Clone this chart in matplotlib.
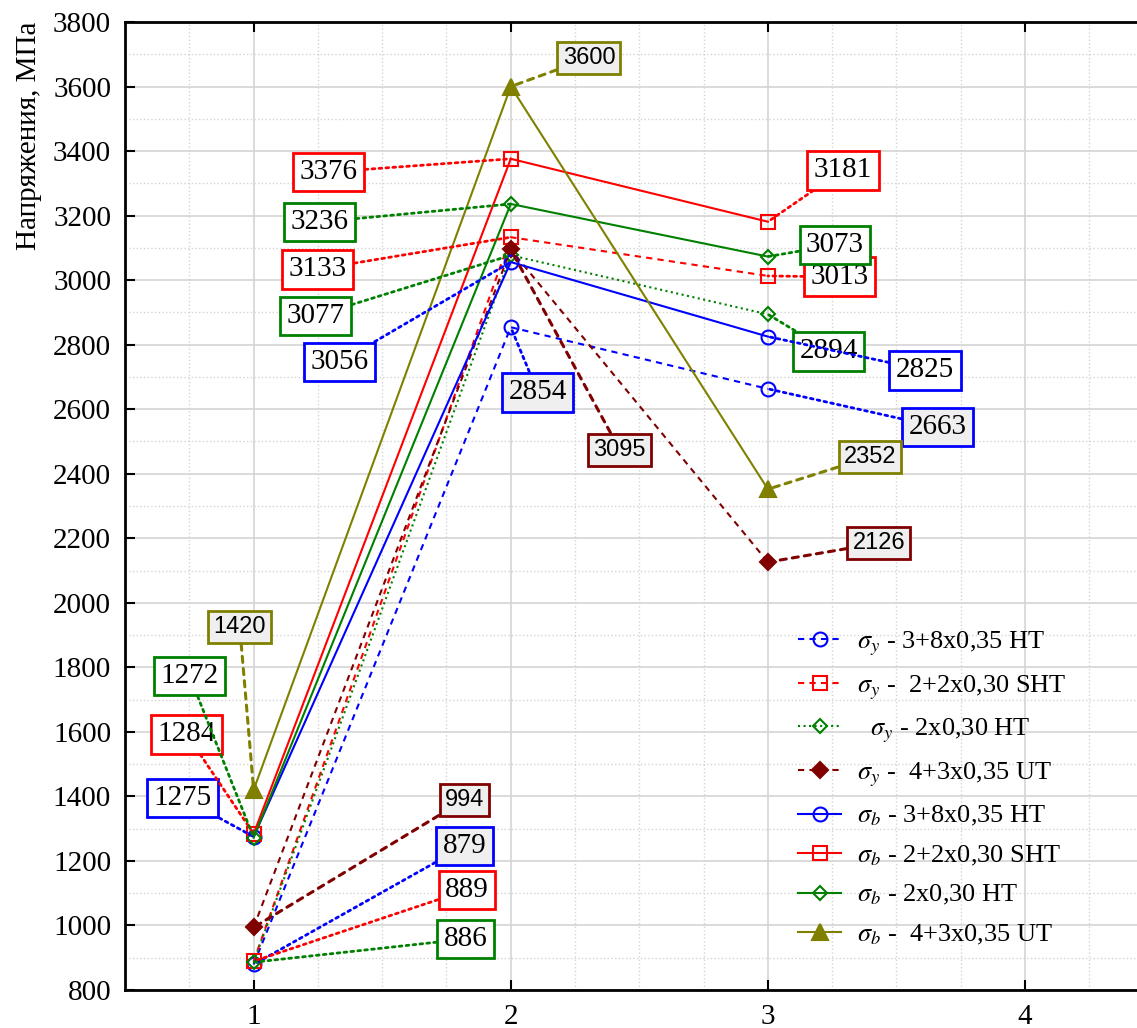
import matplotlib
matplotlib.use("Agg")
import matplotlib.pyplot as plt
from matplotlib.ticker import MultipleLocator

plt.rcParams.update({
    "font.family": ["Liberation Serif", "DejaVu Serif"],
    "mathtext.fontset": "stix",
    "font.size": 19,
})

# stages on the x axis
stages = [1, 2, 3]

names = [
    r"$\sigma_y$ - 3+8x0,35 HT",
    r"$\sigma_y$ -  2+2x0,30 SHT",
    r"  $\sigma_y$ - 2x0,30 HT",
    r"$\sigma_y$ -  4+3x0,35 UT",
    r"$\sigma_b$ - 3+8x0,35 HT",
    r"$\sigma_b$ - 2+2x0,30 SHT",
    r"$\sigma_b$ - 2x0,30 HT",
    r"$\sigma_b$ -  4+3x0,35 UT",
]

sy_38_ht = [879, 2854, 2663]
sy_22_sht = [889, 3133, 3013]
sy_2_ht = [886, 3077, 2894]
sy_43_ut = [994, 3095, 2126]
sb_38_ht = [1275, 3056, 2825]
sb_22_sht = [1284, 3376, 3181]
sb_2_ht = [1272, 3236, 3073]
sb_43_ut = [1420, 3600, 2352]

series = [sy_38_ht, sy_22_sht, sy_2_ht, sy_43_ut, sb_38_ht, sb_22_sht, sb_2_ht, sb_43_ut]

# line styles per series
styles = [
    dict(color="#0000ff", ls=(0, (3, 2.5)), marker="o", mfc="none", ms=10),
    dict(color="#ff0000", ls=(0, (3, 2.5)), marker="s", mfc="none", ms=10),
    dict(color="#008000", ls=":", marker="D", mfc="none", ms=7),
    dict(color="#800000", ls=(0, (3, 2.5)), marker="D", mfc="#800000", ms=8),
    dict(color="#0000ff", ls="-", marker="o", mfc="none", ms=10),
    dict(color="#ff0000", ls="-", marker="s", mfc="none", ms=10),
    dict(color="#008000", ls="-", marker="D", mfc="none", ms=7),
    dict(color="#808000", ls="-", marker="^", mfc="#808000", ms=11),
]

# where each value label sits (data coords), and whether its box is shaded
label_xy = [
    [(1.82, 1246), (2.105, 2653), (3.66, 2545)],
    [(1.83, 1110), (1.25, 3034), (3.28, 3010)],
    [(1.825, 958), (1.24, 2889), (3.237, 2780)],
    [(1.82, 1389), (2.424, 2474), (3.432, 2185)],
    [(0.724, 1395), (1.335, 2746), (3.611, 2721)],
    [(0.739, 1593), (1.292, 3335), (3.292, 3341)],
    [(0.751, 1773), (1.257, 3180), (3.261, 3109)],
    [(0.946, 1925), (2.304, 3688), (3.397, 2452)],
]
shaded = [
    [True, True, True],
    [False, False, False],
    [False, False, False],
    [True, True, True],
    [False, False, False],
    [False, False, False],
    [False, False, False],
    [True, True, True],
]

fig = plt.figure(figsize=(11.37, 10.28), dpi=100)
ax = fig.add_axes([0.110, 0.037, 0.9046, 0.9416])

for vals, name, st in zip(series, names, styles):
    ax.plot(stages, vals, label=name, lw=1.5, color=st["color"], ls=st["ls"],
            marker=st["marker"], mfc=st["mfc"], mec=st["color"], ms=st["ms"],
            mew=1.5, zorder=3)

for k, (vals, st) in enumerate(zip(series, styles)):
    col = st["color"]
    ut = k in (3, 7)
    for j, v in enumerate(vals):
        face = "#efefef" if shaded[k][j] else "white"
        ax.annotate(
            f"{v}", xy=(stages[j], v), xytext=label_xy[k][j],
            ha="center", va="center",
            fontsize=17 if ut else 21,
            family=["Liberation Sans"] if ut else ["Liberation Serif"],
            bbox=dict(boxstyle="square,pad=0.22", fc=face, ec=col, lw=2),
            arrowprops=dict(arrowstyle="-", color=col,
                            ls=(0, (2, 2)) if ut else (0, (1, 1.5)),
                            lw=2.2 if ut else 2, shrinkA=0, shrinkB=0),
            zorder=5,
        )

ax.set_xlim(0.5, 4.5)
ax.set_ylim(800, 3800)
ax.xaxis.set_major_locator(MultipleLocator(1))
ax.xaxis.set_minor_locator(MultipleLocator(0.25))
ax.yaxis.set_major_locator(MultipleLocator(200))
ax.yaxis.set_minor_locator(MultipleLocator(100))
ax.grid(which="major", color="#d4d4d4", lw=1.2, ls="-")
ax.grid(which="minor", color="#d4d4d4", lw=1.0, ls=":")
ax.set_axisbelow(True)
ax.tick_params(which="major", direction="in", length=7, width=1.5,
               top=True, right=False, labelsize=21, pad=10)
ax.tick_params(which="minor", length=0)
for side in ("left", "bottom", "top"):
    ax.spines[side].set_linewidth(2)
ax.spines["right"].set_visible(False)

ax.set_ylabel("Напряжения, МПа", fontsize=21, loc="top", labelpad=8)

ax.legend(loc="upper left", bbox_to_anchor=(0.693, 0.398),
          bbox_transform=fig.transFigure, frameon=False, fontsize=19,
          handlelength=1.6, handletextpad=0.6, labelspacing=0.58,
          borderaxespad=0)

fig.savefig("out.png", dpi=100)
